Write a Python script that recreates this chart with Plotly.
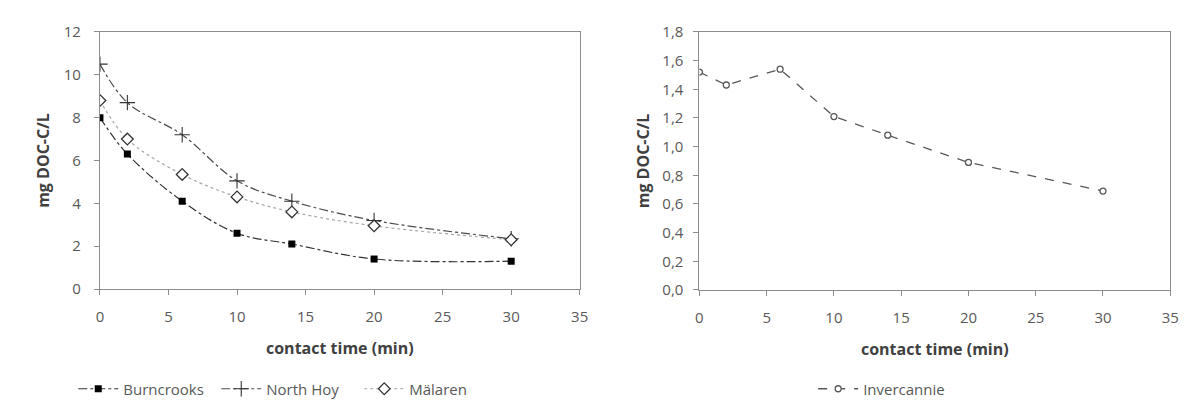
import plotly.graph_objects as go

# ---- data ----
time_min = [0, 2, 6, 10, 14, 20, 30]
burncrooks = [8.0, 6.3, 4.1, 2.6, 2.1, 1.4, 1.3]
north_hoy = [10.5, 8.7, 7.2, 5.05, 4.1, 3.2, 2.35]
malaren = [8.8, 7.0, 5.35, 4.3, 3.6, 2.95, 2.3]
invercannie = [1.52, 1.43, 1.54, 1.21, 1.08, 0.89, 0.69]

left_yticks = [0, 2, 4, 6, 8, 10, 12]
right_yticks = [0.0, 0.2, 0.4, 0.6, 0.8, 1.0, 1.2, 1.4, 1.6, 1.8]
right_ytick_text = ["0,0", "0,2", "0,4", "0,6", "0,8", "1,0", "1,2", "1,4", "1,6", "1,8"]
xticks = [0, 5, 10, 15, 20, 25, 30, 35]

FONT = "Open Sans"
TICK_COLOR = "#595959"
AXIS_COLOR = "#8c8c8c"

fig = go.Figure()

fig.add_trace(go.Scatter(
    x=time_min, y=burncrooks, name="Burncrooks", mode="lines+markers",
    line=dict(color="#333333", width=1.2, dash="dashdot", shape="spline"),
    marker=dict(symbol="square", size=7, color="black"),
    xaxis="x", yaxis="y", legend="legend"))
fig.add_trace(go.Scatter(
    x=time_min, y=north_hoy, name="North Hoy", mode="lines+markers",
    line=dict(color="#4d4d4d", width=1.2, dash="dashdot", shape="spline"),
    marker=dict(symbol="cross-thin", size=11, color="black",
                line=dict(width=1.1, color="#333333")),
    xaxis="x", yaxis="y", legend="legend"))
fig.add_trace(go.Scatter(
    x=time_min, y=malaren, name="Mälaren", mode="lines+markers",
    line=dict(color="#a6a6a6", width=1.2, dash="dot", shape="spline"),
    marker=dict(symbol="diamond", size=9, color="white",
                line=dict(width=1.3, color="#333333")),
    xaxis="x", yaxis="y", legend="legend"))
fig.add_trace(go.Scatter(
    x=time_min, y=invercannie, name="Invercannie", mode="lines+markers",
    line=dict(color="#595959", width=1.3, dash="dash"),
    marker=dict(symbol="circle", size=6, color="white",
                line=dict(width=1.3, color="#595959")),
    xaxis="x2", yaxis="y2", legend="legend2"))

axis_common = dict(
    showgrid=False, zeroline=False, showline=True, linecolor=AXIS_COLOR,
    linewidth=1, mirror=True, ticks="outside", ticklen=5, tickcolor=AXIS_COLOR,
    tickfont=dict(family=FONT, size=15, color=TICK_COLOR),
)
title_font = dict(family=FONT, size=16, color="#404040")

fig.update_layout(
    width=1202, height=418,
    margin=dict(l=0, r=0, t=0, b=0),
    paper_bgcolor="white", plot_bgcolor="white",
    font=dict(family=FONT, color=TICK_COLOR),
    xaxis=dict(domain=[97/1202, 582/1202], range=[0, 35], tickvals=xticks,
               ticklabelstandoff=9,
               title=dict(text="<b>contact time (min)</b>", font=title_font, standoff=17),
               anchor="y", **axis_common),
    yaxis=dict(domain=[(418-292)/418, (418-22)/418], range=[0, 12], tickvals=left_yticks,
               ticklabelstandoff=10,
               title=dict(text="<b>mg DOC-C/L</b>", font=title_font, standoff=10),
               anchor="x", **axis_common),
    xaxis2=dict(domain=[703/1202, 1179/1202], range=[0, 35], tickvals=xticks,
                ticklabelstandoff=9,
                title=dict(text="<b>contact time (min)</b>", font=title_font, standoff=17),
                anchor="y2", **axis_common),
    yaxis2=dict(domain=[(418-293)/418, (418-22)/418], range=[0, 1.8],
                tickvals=right_yticks, ticktext=right_ytick_text,
                ticklabelstandoff=7,
                title=dict(text="<b>mg DOC-C/L</b>", font=title_font, standoff=8),
                anchor="x2", **axis_common),
    legend=dict(orientation="h", x=70/1202, y=(418-397)/418, xanchor="left",
                yanchor="middle", font=dict(family=FONT, size=15, color=TICK_COLOR),
                bgcolor="rgba(0,0,0,0)", itemwidth=40, entrywidth=88,
                borderwidth=0),
    legend2=dict(orientation="h", x=818/1202, y=(418-397)/418, xanchor="left",
                 yanchor="middle", font=dict(family=FONT, size=15, color=TICK_COLOR),
                 bgcolor="rgba(0,0,0,0)", itemwidth=40, borderwidth=0),
    showlegend=True,
)

fig.write_html("out.html")
